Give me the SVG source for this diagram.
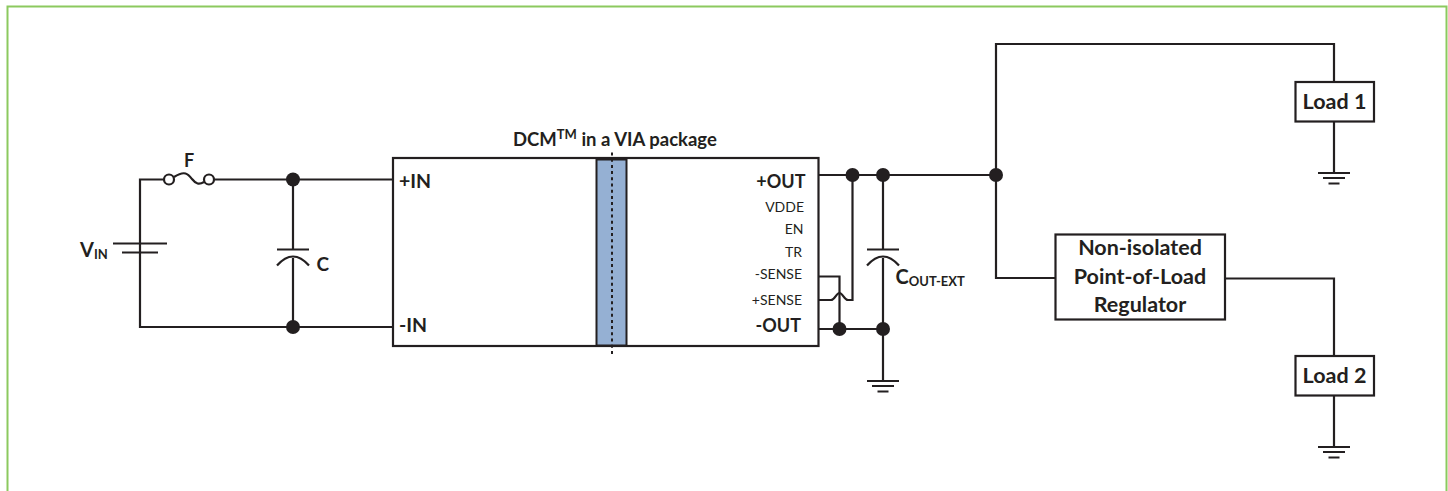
<svg xmlns="http://www.w3.org/2000/svg" width="1448" height="491" viewBox="0 0 1448 491">
<style>
.w{fill:none;stroke:#231f20;stroke-width:2.200}
.b{fill:#fff;stroke:#231f20;stroke-width:2.200}
.d{fill:#231f20}
text{font-family:"Lato","Open Sans",sans-serif;fill:#231f20}
.t{font-weight:700;font-size:18px}
.l{font-weight:700;font-size:21.500px;text-anchor:middle}
.s{font-size:14px;text-anchor:end}
.m{text-anchor:middle}
.e{text-anchor:end}
</style>
<defs>
<g id="gnd"><path class="w" d="M-16 0H16M-11 5H11M-5.500 10.500H5.500"/></g>
<g id="cap"><path class="w" d="M-16 0H16M-16 16Q0 -2 16 16"/></g>
</defs>
<path d="M7.500 491V6.500H1446.500V491" fill="none" stroke="#8cc95f" stroke-width="2"/>
<g id="connectors">
<path class="w" d="M164 179.500H140V327H392M140 179.500V243.500M140 252.500V327"/>
<path class="w" d="M214 179.500H392M293 179.500V249.500M293 258V327"/>
<path class="w" d="M818 175H996M852.500 175V300H848C844 300 843 293 839.500 293C836 293 835 300 831 300H818"/>
<path class="w" d="M818 276.500H839.500V329M818 329H883M883 175V249.500M883 258V381"/>
<path class="w" d="M996 175V44H1334V82M996 175V278H1055.500"/>
<path class="w" d="M1225 278.500H1334V356M1334 121.500V173M1334 395V447"/>
<path class="w" d="M113 243.500H167M122 252.500H158"/>
</g>
<g id="fuse"><circle cx="169" cy="179.500" r="5" class="b"/><circle cx="209" cy="179.500" r="5" class="b"/><path class="w" d="M174 177C185 170 188 174 192 179C196 184 199 185 204 182"/></g>
<g id="cap-c"><use href="#cap" x="293" y="249.500"/></g>
<g id="cap-out"><use href="#cap" x="883" y="249.500"/></g>
<g id="gnd-out"><use href="#gnd" x="883" y="381"/></g>
<g id="gnd-1"><use href="#gnd" x="1334" y="173"/></g>
<g id="gnd-2"><use href="#gnd" x="1334" y="447"/></g>
<g id="dots" class="d">
<circle cx="293" cy="179.500" r="7"/><circle cx="293" cy="327" r="7"/>
<circle cx="852.500" cy="175" r="7"/><circle cx="883" cy="175" r="7"/><circle cx="996" cy="175" r="7"/>
<circle cx="839.500" cy="329" r="7"/><circle cx="883" cy="329" r="7"/>
</g>
<g id="dcm">
<rect x="393" y="158" width="425.500" height="188" class="b"/>
<rect x="596.500" y="159.500" width="30" height="186" fill="#95b0d3" stroke="#231f20" stroke-width="2"/>
<path d="M612 152.500V356.500" fill="none" stroke="#231f20" stroke-width="2" stroke-dasharray="3 3.200"/>
<text x="513" y="146" class="t" style="font-size:18.500px">DCM<tspan font-size="13" dy="-7">TM</tspan><tspan dy="7"> in a VIA package</tspan></text>
<text x="399" y="188" class="t" style="font-size:19.500px">+IN</text>
<text x="399" y="332" class="t" style="font-size:19.500px">-IN</text>
<text x="805.500" y="188" class="t e">+OUT</text>
<text x="804" y="212" class="s">VDDE</text>
<text x="803.500" y="234" class="s">EN</text>
<text x="802" y="257" class="s">TR</text>
<text x="802" y="279" class="s">-SENSE</text>
<text x="802" y="305" class="s">+SENSE</text>
<text x="801" y="332" class="t e">-OUT</text>
</g>
<g id="load1"><rect x="1295.500" y="82" width="78.500" height="39.500" class="b"/><text x="1334.500" y="109" class="l">Load 1</text></g>
<g id="load2"><rect x="1295.500" y="356" width="78.500" height="39.500" class="b"/><text x="1334.500" y="383" class="l">Load 2</text></g>
<g id="reg"><rect x="1055.500" y="234.500" width="169.500" height="85" class="b"/>
<text x="1140" y="254.500" class="l">Non-isolated</text><text x="1140" y="283.500" class="l">Point-of-Load</text><text x="1140" y="312" class="l">Regulator</text></g>
<text x="189" y="167" class="t m">F</text>
<text x="80" y="257" class="t" style="font-size:20px">V<tspan font-size="13" dy="2">IN</tspan></text>
<text x="316.500" y="270.500" class="t" style="font-size:19px">C</text>
<text x="895.500" y="284" class="t" style="font-size:20px">C<tspan font-size="13" dy="2">OUT-EXT</tspan></text>
</svg>
